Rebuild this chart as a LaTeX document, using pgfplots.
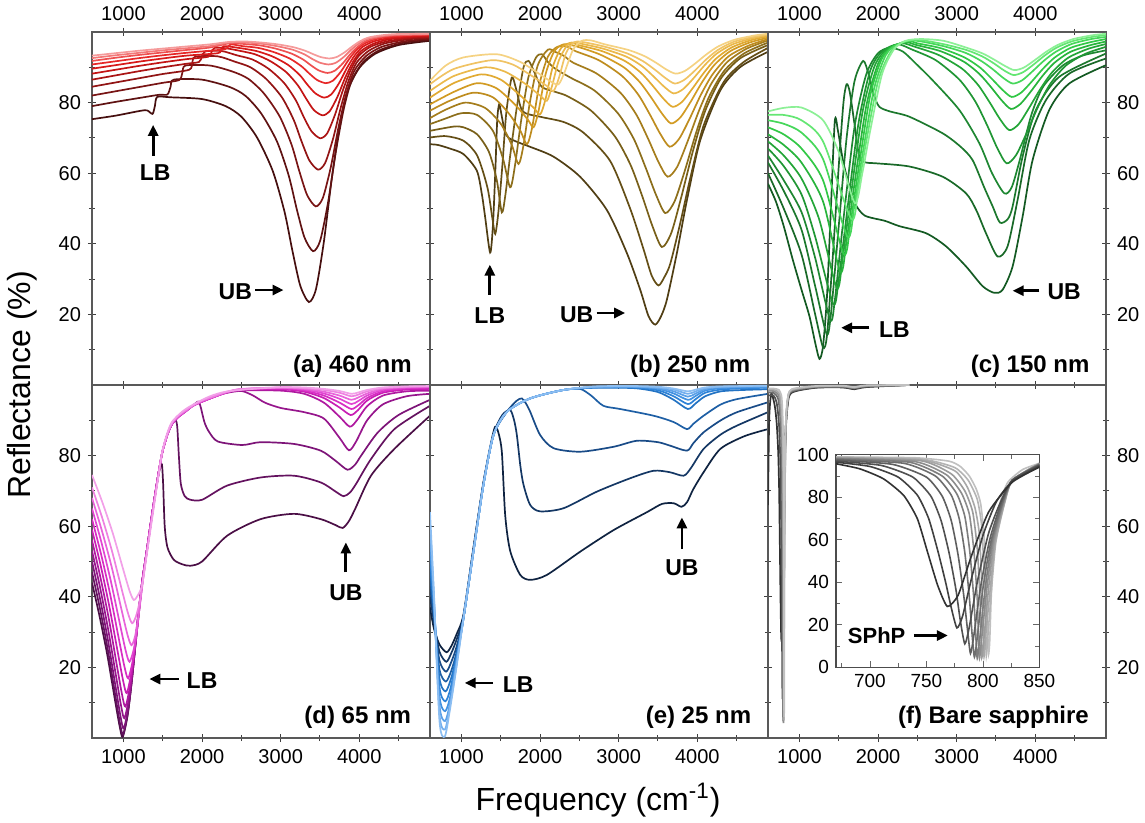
\documentclass[border=0pt]{standalone}
\usepackage{fontspec}
\setmainfont{Liberation Sans}
\usepackage{pgfplots}
\pgfplotsset{compat=1.18}
\usepgfplotslibrary{groupplots}
\usetikzlibrary{arrows.meta,calc}
% red
\definecolor{a0}{RGB}{70,15,15}\definecolor{a1}{RGB}{95,18,18}\definecolor{a2}{RGB}{120,20,20}\definecolor{a3}{RGB}{145,20,20}
\definecolor{a4}{RGB}{170,20,20}\definecolor{a5}{RGB}{195,20,20}\definecolor{a6}{RGB}{215,25,25}\definecolor{a7}{RGB}{230,40,40}
\definecolor{a8}{RGB}{238,80,80}\definecolor{a9}{RGB}{242,120,120}\definecolor{a10}{RGB}{245,155,155}
% gold
\definecolor{b0}{RGB}{80,62,20}\definecolor{b1}{RGB}{100,78,22}\definecolor{b2}{RGB}{120,95,25}\definecolor{b3}{RGB}{140,110,27}
\definecolor{b4}{RGB}{165,125,28}\definecolor{b5}{RGB}{190,140,30}\definecolor{b6}{RGB}{210,155,35}\definecolor{b7}{RGB}{225,170,50}
\definecolor{b8}{RGB}{235,185,75}\definecolor{b9}{RGB}{240,195,100}\definecolor{b10}{RGB}{245,210,130}
% green
\definecolor{c0}{RGB}{20,90,35}\definecolor{c1}{RGB}{25,105,40}\definecolor{c2}{RGB}{28,120,45}\definecolor{c3}{RGB}{30,135,50}
\definecolor{c4}{RGB}{32,150,52}\definecolor{c5}{RGB}{35,165,55}\definecolor{c6}{RGB}{40,180,60}\definecolor{c7}{RGB}{50,200,70}
\definecolor{c8}{RGB}{70,215,90}\definecolor{c9}{RGB}{100,230,115}\definecolor{c10}{RGB}{140,240,150}
% magenta
\definecolor{d0}{RGB}{75,15,70}\definecolor{d1}{RGB}{100,18,95}\definecolor{d2}{RGB}{125,20,120}\definecolor{d3}{RGB}{150,22,140}
\definecolor{d4}{RGB}{175,25,160}\definecolor{d5}{RGB}{200,30,180}\definecolor{d6}{RGB}{215,45,195}\definecolor{d7}{RGB}{225,70,210}
\definecolor{d8}{RGB}{232,100,218}\definecolor{d9}{RGB}{238,130,225}\definecolor{d10}{RGB}{242,160,232}
% blue
\definecolor{e0}{RGB}{15,35,65}\definecolor{e1}{RGB}{20,55,100}\definecolor{e2}{RGB}{25,75,135}\definecolor{e3}{RGB}{30,95,165}
\definecolor{e4}{RGB}{35,115,195}\definecolor{e5}{RGB}{45,130,215}\definecolor{e6}{RGB}{65,145,225}\definecolor{e7}{RGB}{90,160,232}
\definecolor{e8}{RGB}{115,175,238}\definecolor{e9}{RGB}{140,190,242}
% grey
\definecolor{f0}{RGB}{50,50,50}\definecolor{f1}{RGB}{65,65,65}\definecolor{f2}{RGB}{80,80,80}\definecolor{f3}{RGB}{95,95,95}
\definecolor{f4}{RGB}{110,110,110}\definecolor{f5}{RGB}{125,125,125}\definecolor{f6}{RGB}{140,140,140}\definecolor{f7}{RGB}{155,155,155}
\definecolor{f8}{RGB}{168,168,168}\definecolor{f9}{RGB}{180,180,180}\definecolor{f10}{RGB}{192,192,192}
\tikzset{ann/.style={font=\fontsize{11.5}{13}\selectfont\bfseries},
  arr/.style={-{Triangle[length=5.5pt,width=5pt]}, line width=1.4pt},
  plab/.style={anchor=base east,font=\fontsize{12}{14}\selectfont\bfseries}}
\pgfplotsset{panel/.style={width=169pt,height=176.5pt,scale only axis,
  xmin=600,xmax=4900,ymin=0,ymax=100,
  xtick={1000,2000,3000,4000}, minor xtick={1500,2500,3500,4500},
  ytick={20,40,60,80}, minor ytick={10,30,50,70,90},
  tick align=center, major tick length=4pt, minor tick length=3pt,
  tick style={black!75,line width=0.5pt},
  axis line style={black!65,line width=0.7pt},
  tick label style={font=\fontsize{10}{12}\selectfont},
  /pgf/number format/assume math mode=true, /pgf/number format/1000 sep={},
  scaled ticks=false,
  every axis plot/.append style={line width=0.85pt, smooth, tension=0.45, mark=none}}}
\begin{document}
\begin{tikzpicture}
\begin{groupplot}[group style={group name=G, group size=3 by 2, horizontal sep=0pt, vertical sep=0pt}, panel]
%================ (a)
\nextgroupplot[xticklabel pos=upper, yticklabel pos=left]
\addplot[a0] coordinates {(600,75.3) (900,76.3) (1200,77.6) (1300,77.8) (1370,76.8) (1400,79) (1430,81.6) (1600,81.5) (2000,81) (2300,79) (2500,76) (2700,70.1) (2900,60.6) (3050,49) (3150,38) (3250,28.1) (3360,23.5) (3450,27.2) (3550,40.6) (3650,58.4) (3750,73.3) (3850,83.2) (4000,89.8) (4200,93.8) (4500,96.3) (4900,97.5)};
\addplot[a1] coordinates {(600,79) (900,80.2) (1200,81.3) (1450,82.2) (1560,82.3) (1600,84.5) (1640,86.5) (2000,86.5) (2353,84.4) (2553,81.9) (2753,76.9) (2953,69) (3103,59.3) (3203,50) (3303,41.8) (3413,37.9) (3503,40.9) (3603,51.7) (3703,66.2) (3803,78.2) (3903,86.2) (4053,91.6) (4253,94.8) (4553,96.9) (4900,97.8)};
\addplot[a2] coordinates {(600,82) (900,83.2) (1200,84.4) (1500,85.6) (1710,86.4) (1750,88.5) (1790,90.5) (2100,90.5) (2387,88.8) (2587,86.75) (2787,82.6) (2987,76.1) (3137,68.2) (3237,60.6) (3337,53.8) (3447,50.6) (3537,53) (3637,61.6) (3737,73.1) (3837,82.6) (3937,89) (4087,93.2) (4287,95.8) (4587,97.4) (4900,98.1)};
\addplot[a3] coordinates {(600,84.5) (900,85.7) (1200,86.9) (1500,88.1) (1835,89.3) (1875,91.2) (1915,93) (2200,93.1) (2416,91.6) (2616,90) (2816,86.7) (3016,81.5) (3166,75.1) (3266,69) (3366,63.6) (3476,61) (3566,62.9) (3666,69.7) (3766,78.7) (3866,86.3) (3966,91.3) (4116,94.6) (4316,96.7) (4616,97.9) (4900,98.4)};
\addplot[a4] coordinates {(600,86.5) (900,87.7) (1200,88.9) (1500,90) (1800,91) (1960,91.5) (2000,93) (2040,94.5) (2250,94.6) (2442,93.4) (2642,92.2) (2842,89.65) (3042,85.6) (3192,80.7) (3292,76) (3392,71.9) (3502,69.9) (3592,71.3) (3692,76.6) (3792,83.5) (3892,89.3) (3992,93.2) (4142,95.8) (4342,97.3) (4642,98.3) (4900,98.6)};
\addplot[a5] coordinates {(600,88.2) (900,89.3) (1200,90.4) (1500,91.4) (1800,92.3) (2080,93) (2120,94.3) (2160,95.5) (2300,95.4) (2472,94.7) (2672,93.7) (2872,91.7) (3072,88.6) (3222,84.8) (3322,81.2) (3422,77.9) (3532,76.4) (3622,77.5) (3722,81.6) (3822,87.1) (3922,91.6) (4022,94.6) (4172,96.6) (4372,97.9) (4672,98.6) (4900,98.8)};
\addplot[a6] coordinates {(600,89.6) (900,90.6) (1200,91.6) (1500,92.5) (1800,93.3) (2200,94) (2240,95) (2280,96) (2493,95.4) (2693,94.6) (2893,93.1) (3093,90.7) (3243,87.8) (3343,85) (3443,82.6) (3553,81.4) (3643,82.3) (3743,85.5) (3843,89.8) (3943,93.4) (4043,95.8) (4193,97.4) (4393,98.3) (4693,98.9) (4900,99)};
\addplot[a7] coordinates {(600,90.8) (900,91.7) (1200,92.6) (1500,93.4) (1800,94.1) (2100,94.7) (2290,95.1) (2330,95.8) (2370,96.5) (2514,96) (2714,95.5) (2914,94.3) (3114,92.5) (3264,90.3) (3364,88.25) (3464,86.4) (3574,85.5) (3664,86.2) (3764,88.7) (3864,92.1) (3964,94.9) (4064,96.7) (4214,98) (4414,98.7) (4714,99.1) (4900,99.2)};
\addplot[a8] coordinates {(600,91.8) (900,92.7) (1200,93.5) (1500,94.2) (1800,94.9) (2100,95.6) (2350,96.8) (2536,96.6) (2736,96.2) (2936,95.3) (3136,93.9) (3286,92.2) (3386,90.55) (3486,89.1) (3596,88.4) (3686,89) (3786,91) (3886,93.7) (3986,95.9) (4086,97.4) (4236,98.4) (4436,99) (4900,99.3)};
\addplot[a9] coordinates {(600,92.6) (900,93.4) (1200,94.1) (1500,94.8) (1800,95.4) (2100,96) (2350,97) (2549,97) (2749,96.7) (2949,96) (3149,95) (3299,93.7) (3399,92.4) (3499,91.3) (3609,90.8) (3699,91.25) (3799,92.85) (3899,95) (3999,96.8) (4099,98) (4249,98.7) (4449,99.2) (4900,99.4)};
\addplot[a10] coordinates {(600,93.3) (900,94) (1200,94.7) (1500,95.3) (1800,95.9) (2100,96.5) (2350,97.2) (2561,97.3) (2761,97) (2961,96.5) (3161,95.7) (3311,94.7) (3411,93.75) (3511,92.9) (3621,92.5) (3711,92.9) (3811,94.2) (3911,95.9) (4011,97.4) (4111,98.4) (4261,99) (4461,99.4) (4900,99.5)};
\draw[arr] (axis cs:1378,64.9) -- (axis cs:1378,73.7);
\node[ann] at (axis cs:1404,60.3) {LB};
\node[ann] at (axis cs:2423,26.3) {UB};
\draw[arr] (axis cs:2680,26.9) -- (axis cs:3037,26.9);
\node[plab] at (rel axis cs:0.967,0.036) {(a) 460 nm};
%================ (b)
\nextgroupplot[xticklabel pos=upper, yticklabels={}]
\addplot[b0] coordinates {(600,68.2) (700,68) (850,67) (1026,65.4) (1196,60.7) (1260,54) (1302,47.5) (1365,37.5) (1400,45) (1430,60) (1455,75) (1480,79.5) (1510,76.5) (1550,72) (1600,70) (1750,68.5) (1870,67.5) (2170,64.7) (2509,59) (2849,49.6) (3104,37.4) (3274,27) (3380,19.5) (3465,17.1) (3540,19.5) (3614,24.2) (3741,37.4) (3869,52.4) (4039,69.4) (4294,83.5) (4549,90.1) (4900,94.4)};
\addplot[b1] coordinates {(600,70.1) (800,70.5) (1026,69.2) (1200,65) (1330,56) (1395,47) (1430,42.8) (1470,49) (1520,62) (1570,77) (1640,87.1) (1700,83.5) (1780,77.5) (2000,76) (2300,74.5) (2551,71.5) (2891,63.5) (3146,50) (3316,38.5) (3420,31) (3507,28.2) (3580,30.5) (3656,34.3) (3783,45.8) (3911,58.6) (4081,73.5) (4336,85.8) (4591,91.5) (4900,95.5)};
\addplot[b2] coordinates {(600,72) (900,73.2) (1026,73) (1200,71) (1350,66) (1450,58) (1514,48.9) (1560,54) (1620,65) (1700,78) (1790,90) (1854,91.8) (1920,89) (2020,84.5) (2200,83) (2350,81.8) (2650,77.7) (2950,70.5) (3150,62.4) (3300,53.5) (3430,45) (3550,39.1) (3670,43.1) (3800,53.5) (3950,66.7) (4100,77.6) (4300,86.8) (4550,92.6) (4900,96.3)};
\addplot[b3] coordinates {(600,73.9) (800,75.5) (1000,77) (1200,76.5) (1400,72) (1530,64) (1620,56) (1680,62) (1760,75) (1850,87) (1950,92.8) (2024,93.7) (2100,91.5) (2200,89.5) (2393,87) (2693,83.4) (2993,76.9) (3193,69.7) (3343,61.6) (3473,54) (3593,48.7) (3713,52.1) (3843,60.8) (3993,72) (4143,81.3) (4343,89) (4593,93.9) (4900,97)};
\addplot[b4] coordinates {(600,75.6) (800,78) (1050,80) (1300,78.5) (1500,74) (1640,68) (1726,62.6) (1790,68) (1870,80) (1970,90.5) (2100,95) (2200,94.3) (2300,93.3) (2422,91.3) (2722,88.2) (3022,82.8) (3222,76.7) (3372,69.9) (3502,63.4) (3622,59) (3742,61.7) (3872,68.7) (4022,77.7) (4172,85.1) (4372,91.3) (4622,95.2) (4900,97.6)};
\addplot[b5] coordinates {(600,77.7) (850,80.5) (1150,82.8) (1400,81.5) (1600,77) (1750,72) (1833,68.2) (1900,73) (1990,85) (2100,93) (2220,95.8) (2350,95.8) (2448,94.6) (2748,92) (3048,87.45) (3248,82.3) (3398,76.6) (3528,71.2) (3648,67.5) (3768,69.7) (3898,75.2) (4048,82.3) (4198,88.1) (4398,93.1) (4648,96.1) (4900,98)};
\addplot[b6] coordinates {(600,79.5) (900,83) (1200,85.5) (1450,84) (1700,79) (1850,75) (1918,73) (1980,77.5) (2070,88) (2180,94.5) (2300,96.5) (2465,95.9) (2765,93.6) (3065,90) (3265,85.9) (3415,81.4) (3545,77.1) (3665,74.1) (3785,75.8) (3915,80.2) (4065,85.9) (4215,90.6) (4415,94.5) (4665,97) (4900,98.4)};
\addplot[b7] coordinates {(600,81.4) (900,85.5) (1250,88) (1500,86.5) (1750,82) (1920,78.5) (2002,76.7) (2070,81) (2160,90) (2270,95.5) (2400,97) (2486,96.3) (2786,94.6) (3086,91.7) (3286,88.4) (3436,84.7) (3566,81.2) (3686,78.8) (3806,80.2) (3936,83.9) (4086,88.5) (4236,92.4) (4436,95.6) (4686,97.7) (4900,98.8)};
\addplot[b8] coordinates {(600,83.3) (900,87.5) (1300,90) (1550,88.8) (1800,85.5) (2000,82) (2087,80.5) (2150,84.5) (2240,92) (2350,96.3) (2450,97.1) (2520,96.7) (2799,95.3) (3099,93) (3299,90.3) (3449,87.3) (3579,84.5) (3699,82.6) (3819,83.8) (3949,86.8) (4099,90.7) (4249,93.9) (4449,96.5) (4699,98.2) (4900,99.1)};
\addplot[b9] coordinates {(600,85.2) (900,89.5) (1380,92) (1650,90.8) (1900,87.5) (2100,84.5) (2172,83.3) (2240,87) (2330,94) (2430,97) (2530,97.2) (2812,95.9) (3112,93.9) (3312,91.7) (3462,89.3) (3592,87) (3712,85.4) (3832,86.4) (3962,88.9) (4112,92.2) (4262,94.9) (4462,97.2) (4712,98.6) (4900,99.3)};
\addplot[b10] coordinates {(600,86.2) (800,90.5) (1026,92.8) (1450,93.7) (1750,91.5) (2000,88) (2150,85.8) (2236,85.2) (2310,88.5) (2420,95) (2530,97.5) (2650,97.6) (2825,96.5) (3125,94.9) (3325,93.2) (3475,91.3) (3605,89.4) (3725,88.2) (3845,89) (3975,91.1) (4125,93.8) (4275,96) (4475,97.8) (4725,99) (4900,99.5)};
\draw[arr] (axis cs:1361,25.6) -- (axis cs:1361,34.1);
\node[ann] at (axis cs:1361,19.8) {LB};
\node[ann] at (axis cs:2466,19.8) {UB};
\draw[arr] (axis cs:2721,20.4) -- (axis cs:3083,20.4);
\node[plab] at (rel axis cs:0.968,0.036) {(b) 250 nm};
%================ (c)
\nextgroupplot[xticklabel pos=upper, yticklabel pos=right]
\addplot[c0] coordinates {(600,57) (700,52) (800,45) (915,35.5) (1026,27) (1127,19.5) (1200,12) (1255,7.4) (1300,11) (1350,25) (1400,50) (1450,74.8) (1490,72) (1550,64) (1620,57.5) (1705,51.5) (1830,48) (2087,46.5) (2271,45) (2610,43) (2864,39.3) (3119,33.6) (3330,28) (3479,26.1) (3585,27) (3712,33.6) (3839,47.7) (3966,63.7) (4178,77.9) (4432,85.4) (4900,90.6)};
\addplot[c1] coordinates {(600,60) (800,50) (1026,37) (1200,20) (1300,10.7) (1350,14) (1420,35) (1500,62) (1560,80) (1600,85.2) (1640,83) (1700,74) (1763,64.5) (1850,63) (1975,62.8) (2398,61.9) (2822,59) (3119,54.3) (3250,49.5) (3373,43) (3521,36.4) (3648,39.3) (3775,52.4) (3924,69.4) (4136,80.7) (4432,88.2) (4900,92.5)};
\addplot[c2] coordinates {(600,63) (800,55) (1026,44) (1200,28) (1345,14.5) (1400,20) (1500,45) (1600,70) (1700,86) (1811,91.8) (1880,88) (1950,82) (2017,78.8) (2150,77.5) (2398,76) (2822,71.3) (3050,67.5) (3203,63.7) (3350,56) (3458,50.6) (3551,46) (3650,47) (3712,50.6) (3839,64.7) (4008,77.9) (4305,87.3) (4900,93.9)};
\addplot[c3] coordinates {(600,65) (800,58) (1026,49) (1200,36) (1390,18.5) (1450,24) (1550,45) (1700,73) (1850,88) (2000,94) (2150,95.5) (2313,94.5) (2483,91) (2695,86.3) (3034,77.9) (3288,68.5) (3450,60) (3606,54.3) (3700,56) (3800,63.5) (3950,76.5) (4100,84.5) (4350,90.5) (4600,93.3) (4900,94.8)};
\addplot[c4] coordinates {(600,67) (800,62) (1026,54) (1200,42) (1430,23) (1500,30) (1600,48) (1750,74) (1900,89) (2050,94.5) (2250,96.5) (2435,95) (2735,92) (3035,86.5) (3235,80.4) (3385,73.7) (3515,67.2) (3635,62.8) (3755,65.1) (3885,71.1) (4035,78.8) (4185,85.1) (4385,90.4) (4635,93.8) (4900,95.8)};
\addplot[c5] coordinates {(600,69) (800,65) (1026,58.5) (1250,47) (1475,27.5) (1550,36) (1650,53) (1800,77) (1950,90) (2100,95) (2300,96.8) (2469,95.8) (2769,93.5) (3069,89.6) (3269,85.1) (3419,80.1) (3549,75.4) (3669,72.2) (3789,73.9) (3919,78.4) (4069,84) (4219,88.7) (4419,92.7) (4669,95.2) (4900,96.6)};
\addplot[c6] coordinates {(600,71) (800,68) (1026,63) (1300,52) (1520,32) (1600,41) (1700,57) (1850,79) (2000,91) (2150,95.5) (2350,97.1) (2490,96.3) (2790,94.6) (3090,91.6) (3290,88.1) (3440,84.3) (3570,80.7) (3690,78.2) (3810,79.6) (3940,83.05) (4090,87.5) (4240,91.2) (4440,94.3) (4690,96.2) (4900,97.3)};
\addplot[c7] coordinates {(600,73) (800,71) (1026,67) (1300,58) (1565,37) (1650,46) (1750,61) (1900,82) (2050,92.5) (2200,96) (2400,97.4) (2499,96.8) (2799,95.4) (3099,92.8) (3299,89.9) (3449,86.7) (3579,83.7) (3699,81.6) (3819,82.8) (3949,85.8) (4099,89.6) (4249,92.8) (4449,95.5) (4699,97.1) (4900,98)};
\addplot[c8] coordinates {(600,75) (800,74) (1026,71.5) (1300,64) (1610,42) (1700,51) (1800,65) (1950,84) (2100,93.5) (2250,96.5) (2450,97.6) (2812,96.1) (3112,94.1) (3312,91.8) (3462,89.4) (3592,87) (3712,85.4) (3832,86.3) (3962,88.8) (4112,91.9) (4262,94.4) (4462,96.6) (4712,98) (4900,98.6)};
\addplot[c9] coordinates {(600,76.5) (800,76.5) (1026,75) (1300,69) (1660,47) (1750,56) (1850,69) (2000,86) (2150,94) (2300,97) (2500,97.8) (2824,96.6) (3124,94.9) (3324,93.1) (3474,91.1) (3604,89.1) (3724,87.8) (3844,88.6) (3974,90.7) (4124,93.4) (4274,95.6) (4474,97.4) (4724,98.6) (4900,99.1)};
\addplot[c10] coordinates {(600,77.5) (800,78.5) (1026,78.6) (1300,75) (1500,66) (1705,51.5) (1800,60) (1900,72) (2050,88) (2200,95) (2350,97.5) (2550,98) (2833,97.5) (3133,95.5) (3333,93.9) (3483,92.1) (3613,90.4) (3733,89.2) (3853,89.9) (3983,91.85) (4133,94.3) (4283,96.3) (4483,98) (4733,99.1) (4900,99.5)};
\node[ann] at (axis cs:4368,26.3) {UB};
\draw[arr] (axis cs:4051,26.7) -- (axis cs:3712,26.7);
\node[ann] at (axis cs:2208,15.7) {LB};
\draw[arr] (axis cs:1890,16.2) -- (axis cs:1530,16.2);
\node[plab] at (rel axis cs:0.972,0.036) {(c) 150 nm};
%================ (d)
\nextgroupplot[xticklabel pos=lower, yticklabel pos=left]
\addplot[d0] coordinates {(600,44) (697,34.4) (795,23.5) (892,10.8) (951,3.4) (990,0.3) (1050,6) (1100,15) (1180,32) (1240,44) (1300,53.5) (1365,63.5) (1430,72.5) (1470,77) (1490,77.5) (1505,72) (1525,60) (1560,54) (1640,50.5) (1750,49.2) (1851,48.8) (2000,50) (2319,57.3) (2745,62) (3170,63.5) (3510,62) (3700,60.3) (3790,59.5) (3870,61.5) (3950,65) (4149,74.3) (4447,81.9) (4900,91.3)};
\addplot[d1] coordinates {(600,47) (699,36.9) (798,25.4) (897,12) (956,4.2) (996,1) (1055,7) (1105,16) (1180,32.5) (1240,44.5) (1300,53.5) (1365,63.5) (1430,72.8) (1493,80.8) (1560,86) (1620,89) (1665,90) (1685,88) (1705,80) (1730,72) (1780,68.5) (1850,67.5) (2002,67.5) (2319,71.5) (2745,73.8) (3170,74.3) (3510,72.4) (3700,69.8) (3800,68.5) (3880,69.5) (3960,72) (4149,79) (4447,87.5) (4900,94.1)};
\addplot[d2] coordinates {(600,50) (701,39.6) (802,27.8) (903,14.1) (964,6) (1004,2.7) (1065,9) (1115,18) (1180,33) (1240,44.5) (1300,53.5) (1365,63.5) (1430,72.8) (1493,80.8) (1560,86) (1620,89) (1700,91) (1800,92.7) (1875,94) (1950,95.3) (1980,94) (2030,89.5) (2087,86.8) (2200,84) (2512,83) (2745,83.8) (3170,83.3) (3510,81.4) (3700,78.5) (3850,76) (3950,77.5) (4021,79.9) (4234,86.5) (4500,91.5) (4900,95.8)};
\addplot[d3] coordinates {(600,53) (703,42.6) (806,30.7) (910,17) (972,8.9) (1013,5.6) (1075,12) (1125,21) (1180,33.5) (1240,44.5) (1300,53.5) (1365,63.5) (1430,72.8) (1493,80.8) (1560,86) (1620,89) (1700,91) (1800,92.7) (1875,94) (2000,95.3) (2150,96.6) (2300,97.7) (2500,98.3) (2650,97) (2800,95) (3000,93.5) (3300,92.3) (3550,90.5) (3750,85) (3870,81.5) (3960,84) (4100,90) (4300,94.5) (4600,96.8) (4900,97.5)};
\addplot[d4] coordinates {(600,56) (706,45.6) (813,33.9) (919,20.2) (983,12.2) (1026,8.9) (1090,15.5) (1140,24) (1190,35) (1240,44.5) (1300,53.5) (1365,63.5) (1430,72.8) (1493,80.8) (1560,86) (1620,89) (1700,91) (1800,92.7) (1875,94) (2000,95.3) (2150,96.6) (2300,97.8) (2500,98.5) (3000,98.4) (3300,97.5) (3550,95) (3750,91) (3880,88.2) (3970,90) (4100,94) (4300,97) (4600,98.2) (4900,98.4)};
\addplot[d5] coordinates {(600,59) (711,48.8) (821,37.2) (932,23.8) (999,15.9) (1043,12.7) (1100,18.5) (1150,26.5) (1195,36) (1240,44.5) (1300,53.5) (1365,63.5) (1430,72.8) (1493,80.8) (1560,86) (1620,89) (1700,91) (1800,92.7) (1875,94) (2000,95.3) (2150,96.6) (2300,97.8) (2500,98.7) (3000,98.8) (3300,98.1) (3550,96.3) (3750,93.6) (3890,91.5) (3980,92.8) (4100,95.6) (4300,97.8) (4600,98.7) (4900,98.9)};
\addplot[d6] coordinates {(600,62) (715,52.1) (830,40.8) (945,27.7) (1014,20.1) (1060,16.9) (1115,21.5) (1160,28.5) (1200,36.5) (1240,44.5) (1300,53.5) (1365,63.5) (1430,72.8) (1493,80.8) (1560,86) (1620,89) (1700,91) (1800,92.7) (1875,94) (2000,95.3) (2150,96.6) (2300,97.8) (2500,98.8) (3000,99) (3300,98.4) (3550,97) (3750,95) (3900,93.2) (3990,94.3) (4100,96.3) (4300,98.2) (4600,99) (4900,99.2)};
\addplot[d7] coordinates {(600,65) (719,55.5) (838,44.6) (958,32) (1030,24.6) (1077,21.6) (1130,25) (1175,31) (1210,38) (1245,44.5) (1300,53.3) (1365,63.3) (1430,72.6) (1493,80.8) (1560,86) (1620,89) (1700,91) (1800,92.7) (1875,94) (2000,95.3) (2150,96.6) (2300,97.8) (2500,98.8) (3000,99.1) (3300,98.7) (3550,97.6) (3750,96.1) (3900,94.6) (3990,95.5) (4100,97) (4300,98.6) (4600,99.2) (4900,99.4)};
\addplot[d8] coordinates {(600,68) (725,58.8) (851,48.4) (976,36.3) (1052,29.2) (1102,26.3) (1150,29) (1200,36) (1250,45) (1300,53) (1365,63) (1430,72.4) (1493,80.8) (1560,86) (1620,89.2) (1700,91.2) (1800,92.8) (1875,94) (2000,95.5) (2150,96.7) (2300,97.9) (2500,98.8) (3000,99.2) (3300,98.9) (3550,98.1) (3750,97) (3900,95.8) (3990,96.5) (4100,97.6) (4300,98.9) (4600,99.4) (4900,99.5)};
\addplot[d9] coordinates {(600,71) (728,62.5) (855,52.9) (983,41.7) (1060,35.2) (1111,32.5) (1160,34.5) (1210,39) (1255,46) (1300,52.8) (1365,62.8) (1430,72.2) (1493,80.9) (1560,86.2) (1620,89.4) (1700,91.4) (1800,93) (1875,94.1) (2000,95.6) (2150,96.8) (2300,98) (2500,98.9) (3000,99.3) (3300,99.1) (3550,98.6) (3750,97.8) (3900,96.8) (3990,97.3) (4100,98.2) (4300,99.1) (4600,99.5) (4900,99.6)};
\addplot[d10] coordinates {(600,74.5) (733,66.7) (866,57.9) (999,47.6) (1079,41.6) (1132,39.1) (1185,40.5) (1238,43.4) (1300,52.5) (1365,62.2) (1430,72) (1493,81.1) (1560,86.5) (1620,89.6) (1750,92.5) (1875,94.3) (2100,96.8) (2300,98.1) (2600,98.8) (3000,99.4) (3300,99.3) (3550,98.9) (3750,98.3) (3900,97.5) (3990,97.9) (4100,98.6) (4300,99.3) (4600,99.6) (4900,99.7)};
\node[ann] at (axis cs:3830,41.3) {UB};
\draw[arr] (axis cs:3830,46.9) -- (axis cs:3830,55.4);
\node[ann] at (axis cs:2000,16.2) {LB};
\draw[arr] (axis cs:1702,16.7) -- (axis cs:1330,16.7);
\node[plab] at (rel axis cs:0.965,0.04) {(d) 65 nm};
%================ (e)
\nextgroupplot[xticklabel pos=lower, yticklabels={}]
\addplot[e0] coordinates {(600,37) (650,31) (720,26.5) (810,24.3) (870,26) (940,29.5) (1026,35) (1153,54) (1280,72.5) (1380,84) (1429,88.2) (1470,86.5) (1514,81) (1557,63) (1620,53) (1748,46.2) (1875,44.8) (2087,46.2) (2512,52.8) (2936,58.9) (3362,64) (3550,66.3) (3700,66.5) (3800,65.5) (3870,66.8) (3950,70.5) (4081,75.3) (4294,81.9) (4600,85.5) (4900,87.5)};
\addplot[e1] coordinates {(600,40) (650,33) (720,24.5) (807,21.6) (870,24) (940,28) (1026,34.5) (1153,53.5) (1280,72.2) (1408,86) (1520,91.5) (1620,92.9) (1670,90) (1705,85.8) (1750,77) (1790,71.7) (1875,66) (2002,64.2) (2300,65.1) (2724,69.8) (3149,73.6) (3444,75.7) (3650,75.3) (3827,74.3) (3920,76.5) (4081,81.9) (4300,86) (4506,88.5) (4900,92.3)};
\addplot[e2] coordinates {(600,43) (650,34) (720,22) (804,18.8) (870,21.5) (940,26) (1026,34.2) (1153,53.2) (1280,72) (1408,85.9) (1578,92.4) (1700,95.5) (1769,96.2) (1820,94.8) (1875,92.4) (2002,85.8) (2172,82.1) (2512,81.1) (2936,82.5) (3231,84.2) (3500,83.8) (3656,82.8) (3869,81.4) (3950,83.5) (4081,86.6) (4300,90) (4506,92.3) (4900,95.1)};
\addplot[e3] coordinates {(600,46) (650,35) (720,19.5) (801,16) (870,19) (940,24.5) (1026,34) (1153,53) (1280,71.8) (1408,85.8) (1578,92.4) (1875,96.2) (2300,98.6) (2509,98.9) (2650,97) (2806,94.1) (3019,93.2) (3444,91.3) (3700,89.5) (3869,87.5) (3950,89) (4081,91.3) (4300,94.5) (4506,96) (4900,97.5)};
\addplot[e4] coordinates {(600,49) (650,36) (720,17) (798,13.2) (870,17) (940,23.5) (1026,33.9) (1153,52.8) (1280,71.7) (1408,85.8) (1578,92.4) (1875,96.2) (2300,98.6) (2700,99.2) (3200,99.1) (3500,98) (3700,95.8) (3880,93.2) (3980,94.8) (4100,96.8) (4300,98.2) (4600,98.6) (4900,98.8)};
\addplot[e5] coordinates {(600,52) (650,37) (720,14.5) (795,10.4) (860,14) (940,23) (1026,33.9) (1153,52.8) (1280,71.7) (1408,85.8) (1578,92.4) (1875,96.2) (2300,98.6) (2700,99.3) (3200,99.3) (3500,98.5) (3700,96.8) (3880,94.6) (3980,96) (4100,97.8) (4300,98.7) (4600,99.1) (4900,99.2)};
\addplot[e6] coordinates {(600,55) (650,38) (720,12) (793,7.6) (860,12) (940,22.5) (1026,33.9) (1153,52.8) (1280,71.7) (1408,85.8) (1578,92.4) (1875,96.2) (2300,98.6) (2700,99.4) (3200,99.4) (3500,98.9) (3700,97.6) (3880,95.8) (3980,96.9) (4100,98.4) (4300,99.1) (4600,99.3) (4900,99.4)};
\addplot[e7] coordinates {(600,58) (650,39) (720,9.5) (791,4.8) (855,10) (940,22) (1026,33.9) (1153,52.8) (1280,71.7) (1408,85.8) (1578,92.4) (1875,96.2) (2300,98.6) (2700,99.4) (3200,99.5) (3500,99.1) (3700,98.2) (3880,96.7) (3980,97.6) (4100,98.8) (4300,99.4) (4900,99.6)};
\addplot[e8] coordinates {(600,61) (650,40) (720,7) (789,2.4) (850,8.5) (940,21) (1026,33.9) (1153,52.8) (1280,71.7) (1408,85.8) (1578,92.4) (1875,96.2) (2300,98.6) (2700,99.5) (3200,99.6) (3500,99.3) (3700,98.7) (3880,97.5) (3980,98.2) (4100,99.1) (4300,99.5) (4900,99.7)};
\addplot[e9] coordinates {(600,64) (650,41) (720,5) (787,0.4) (850,7.5) (940,20.5) (1026,33.9) (1153,52.8) (1280,71.7) (1408,85.8) (1578,92.4) (1875,96.2) (2300,98.6) (2700,99.6) (3200,99.7) (3500,99.5) (3700,99) (3880,98.2) (3980,98.7) (4100,99.3) (4300,99.6) (4900,99.8)};
\node[ann] at (axis cs:3805,48.3) {UB};
\draw[arr] (axis cs:3805,53.5) -- (axis cs:3805,62.5);
\node[ann] at (axis cs:1722,15) {LB};
\draw[arr] (axis cs:1404,15.6) -- (axis cs:1042,15.6);
\node[plab] at (rel axis cs:0.971,0.04) {(e) 25 nm};
%================ (f)
\nextgroupplot[xticklabel pos=lower, yticklabel pos=right]
\addplot[f0] coordinates {(600,66) (615,90) (640,97.5) (670,95.8) (691,93.4) (712,88.7) (730,80.8) (742,69.9) (751,54.2) (760,38.5) (768.5,28.6) (778,33.8) (790,52.6) (805,73) (826,87.1) (850,94.2) (900,97.8) (1200,99.2) (1550,99.3) (1700,98.8) (1850,99.4) (2400,100)};
\addplot[f2] coordinates {(600,97) (670,97) (710,95) (738,89.5) (754,80.5) (763,69) (770,54) (776,37) (780,22) (784,11) (788,19) (795,40) (805,63) (815,77) (826,88) (850,95) (900,98) (1200,99.3) (1550,99.4) (1700,99) (1850,99.5) (2400,100)};
\addplot[f4] coordinates {(600,97.8) (670,97.8) (730,96) (758,90) (772,81) (779,70) (784,54) (788,33) (790.5,15) (792.5,4.7) (795,14) (800,37) (807,59) (817,77) (826,88) (850,95.4) (900,98.2) (1200,99.4) (1550,99.5) (1700,99.1) (1850,99.6) (2400,100)};
\addplot[f6] coordinates {(600,98.3) (670,98.3) (740,96.8) (768,90.5) (781,82) (788,72) (792,55) (795,32) (796,15) (797,4.2) (799,14) (803.5,37) (809,59) (818,77) (826,88) (850,95.7) (900,98.4) (1200,99.5) (1550,99.6) (1700,99.2) (1850,99.7) (2400,100)};
\addplot[f8] coordinates {(600,98.7) (670,98.7) (745,97.6) (775,92.5) (786,85) (793,75) (797,62) (799.3,35) (800.3,16) (801,5) (802.5,15) (806.5,37) (811,59) (819,77) (826,88) (850,95.9) (900,98.6) (1200,99.6) (1550,99.7) (1700,99.3) (1850,99.8) (2400,100)};
\addplot[f10] coordinates {(600,99) (670,99) (740,98.6) (770,97) (780,94.5) (788,90) (794,84) (798,77) (801,62) (803,35) (804.2,15) (805,6) (806,12) (807.5,35) (810,60) (815,77) (822,87) (835,93) (850,96) (900,98.8) (1200,99.7) (1550,99.8) (1700,99.4) (1850,99.9) (2400,100)};
\node[plab] at (rel axis cs:0.970,0.042) {(f) Bare sapphire};
\end{groupplot}
%================ inset
\begin{axis}[at={(G c3r2.south west)}, anchor=south west, xshift=34pt, yshift=35.4pt,
  width=101.7pt, height=106.2pt, scale only axis, axis background/.style={fill=white},
  xmin=670, xmax=850, ymin=0, ymax=100,
  xtick={700,750,800,850}, minor xtick={675,725,775,825},
  ytick={0,20,40,60,80,100}, minor ytick={10,30,50,70,90},
  tick align=inside, major tick length=3pt, minor tick length=2pt,
  tick style={black!60,line width=0.4pt},
  axis line style={black!70,line width=0.6pt},
  tick label style={font=\fontsize{9.5}{11}\selectfont},
  /pgf/number format/assume math mode=true,
  every axis plot/.append style={line width=0.8pt, smooth, tension=0.35, mark=none}]
\addplot[f10] coordinates {(670,99) (740,98.6) (770,97) (780,94.5) (788,90) (794,84) (798,77) (801,62) (803,35) (804.2,15) (805,6) (806,12) (807.5,35) (810,60) (815,77) (822,87) (835,93) (850,96)};
\addplot[f9] coordinates {(670,98.9) (745,98) (775,94) (787,88) (795,79) (799,66) (801.5,38) (802.4,17) (803,5.5) (804.3,14) (807.5,36) (811.5,59) (819,77) (826,88) (850,96)};
\addplot[f8] coordinates {(670,98.7) (745,97.6) (775,92.5) (786,85) (793,75) (797,62) (799.3,35) (800.3,16) (801,5) (802.5,15) (806.5,37) (811,59) (819,77) (826,88) (850,95.9)};
\addplot[f7] coordinates {(670,98.5) (745,97.2) (772,91) (784,83) (791,73) (795,56) (797.5,32) (798.3,15) (799,4.5) (801,14) (805,37) (810,59) (818.5,77) (826,88) (850,95.8)};
\addplot[f6] coordinates {(670,98.3) (740,96.8) (768,90.5) (781,82) (788,72) (792,55) (795,32) (796,15) (797,4.2) (799,14) (803.5,37) (809,59) (818,77) (826,88) (850,95.7)};
\addplot[f5] coordinates {(670,98.1) (735,96.5) (764,90) (777,81.5) (784,71) (788.5,54) (792,32) (793.7,15) (795,4.2) (797.3,14) (802,37) (808,59) (817.5,77) (826,88) (850,95.6)};
\addplot[f4] coordinates {(670,97.8) (730,96) (758,90) (772,81) (779,70) (784,54) (788,33) (790.5,15) (792.5,4.7) (795,14) (800,37) (807,59) (817,77) (826,88) (850,95.4)};
\addplot[f3] coordinates {(670,97.5) (720,95.5) (750,89.5) (764,80.5) (772,69) (778,53) (783,34) (786.5,17) (789,6.5) (792,15) (798,38) (806,60) (816,77) (826,88) (850,95.2)};
\addplot[f2] coordinates {(670,97) (710,95) (738,89.5) (754,80.5) (763,69) (770,54) (776,37) (780,22) (784,11) (788,19) (795,40) (805,63) (815,77) (826,88) (850,95)};
\addplot[f1] coordinates {(670,96.5) (700,94.5) (725,89.5) (742,81) (752,70) (760,55) (767,40) (772,28) (777,18.5) (782,24) (790,42) (800,62) (812,78) (826,87.5) (850,94.5)};
\addplot[f0] coordinates {(670,95.8) (691,93.4) (712,88.7) (730,80.8) (742,69.9) (751,54.2) (760,38.5) (768.5,28.6) (778,33.8) (790,52.6) (805,73) (826,87.1) (850,94.2)};
\node[font=\fontsize{11}{13}\selectfont\bfseries] at (axis cs:706,14.9) {SPhP};
\draw[arr] (axis cs:739,14.9) -- (axis cs:769,14.9);
\end{axis}
\node[rotate=90,font=\fontsize{16}{18}\selectfont] at ($(G c1r1.north west)+(-35pt,-176.5pt)$) {Reflectance (\%)};
\node[font=\fontsize{16}{18}\selectfont] at ($(G c1r1.north west)+(253pt,-384pt)$) {Frequency (cm\textsuperscript{-1})};
\pgfresetboundingbox
\path ($(G c1r1.north west)+(-46pt,16pt)$) rectangle ($(G c1r1.north west)+(526.5pt,-395.5pt)$);
\end{tikzpicture}
\end{document}
